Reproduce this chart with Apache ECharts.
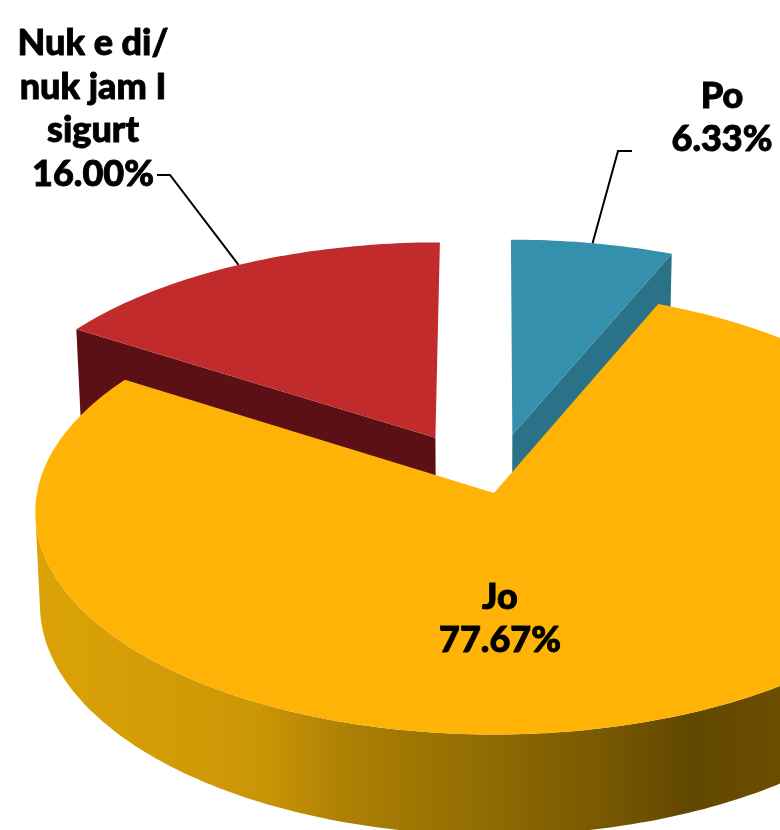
<!DOCTYPE html>
<html>
<head>
<meta charset="utf-8">
<style>html,body{margin:0;padding:0;background:#fff}#c{width:780px;height:830px}</style>
<script src="https://cdn.jsdelivr.net/npm/echarts@6/dist/echarts.min.js"></script>
</head>
<body>
<div id="c"></div>
<script>
const categories = ['Po', 'Jo', 'Nuk e di/\nnuk jam I\nsigurt'];
const values = [6.33, 77.67, 16.00];

const topColors = ['#3590AD', '#FFB306', '#C12B2B'];
const edgeColors = ['#2A7287', null, '#5A1014'];
const wallStops = [
  { offset: 0, color: '#DCA308' }, { offset: 0.30, color: '#CB9606' },
  { offset: 0.42, color: '#AC8004' }, { offset: 0.62, color: '#8E6A03' },
  { offset: 0.75, color: '#7A5A02' }, { offset: 0.88, color: '#614700' },
  { offset: 1, color: '#6B4E00' }
];
const explode = [[0.041, 0.27], [0, 0], [-0.131, 0.255]];
const drawOrder = [1, 3, 2];
const labelPos = [[722, 118], [500, 619], [93, 109]];
const elbows = [[[632, 151], [618, 151]], null, [[157, 175], [170, 175]]];

const G = { ax: 494, ay: 493, A: 457, B: 221, k: 0.085, h: 92, shrink: 0.01 };

function proj(u, v, bottom) {
  const w = 1 + G.k * v;
  const s = bottom ? 1 - G.shrink : 1;
  return [G.ax + G.A * u * s / w, G.ay - G.B * v / w + (bottom ? G.h / w : 0)];
}
const total = values.reduce((a, b) => a + b, 0);
const starts = [];
values.reduce((acc, v, i) => { starts[i] = acc; return acc + v; }, 0);

function rim(a, off) {
  return [Math.sin(a) + off[0], Math.cos(a) + off[1]];
}

function renderItem(params, api) {
  const i = params.dataIndex;
  const val = api.value(0);
  const a0 = starts[i] / total * 2 * Math.PI;
  const a1 = a0 + val / total * 2 * Math.PI;
  const off = explode[i];
  const n = Math.max(8, Math.ceil((a1 - a0) / (Math.PI / 180)));
  const rimAngles = [];
  for (let j = 0; j <= n; j++) rimAngles.push(a0 + (a1 - a0) * j / n);
  const apex = off;
  const z = drawOrder[i];
  const children = [];

  const topArc = rimAngles.map(a => { const p = rim(a, off); return proj(p[0], p[1], false); });

  if (edgeColors[i]) {
    // cut face that looks toward the viewer
    const a = i === 0 ? a1 : a0;
    const p = rim(a, off);
    children.push({
      type: 'polygon', z2: z,
      shape: { points: [proj(p[0], p[1], false), proj(apex[0], apex[1], false), proj(apex[0], apex[1], true), proj(p[0], p[1], true)] },
      style: { fill: edgeColors[i] }
    });
  } else {
    // outer wall: only the part of the rim that faces the viewer
    const front = rimAngles.filter(a => Math.cos(a) <= -0.1);
    const wallTop = front.map(a => { const p = rim(a, off); return proj(p[0], p[1], false); });
    const wallBot = front.map(a => { const p = rim(a, off); return proj(p[0], p[1], true); });
    children.push({
      type: 'polygon', z2: z,
      shape: { points: wallTop.concat(wallBot.reverse()) },
      style: { fill: { type: 'linear', x: 36, y: 0, x2: 780, y2: 0, global: true, colorStops: wallStops } }
    });
  }
  children.push({
    type: 'polygon', z2: z + 0.5,
    shape: { points: [proj(apex[0], apex[1], false)].concat(topArc) },
    style: { fill: topColors[i] }
  });

  if (elbows[i]) {
    const mid = rim((a0 + a1) / 2, off);
    children.push({
      type: 'polyline', z2: 10,
      shape: { points: elbows[i].concat([proj(mid[0], mid[1], false)]) },
      style: { stroke: '#000', lineWidth: 2, fill: null }
    });
  }
  children.push({
    type: 'text', z2: 11,
    x: labelPos[i][0], y: labelPos[i][1],
    style: {
      text: categories[i] + '\n' + val.toFixed(2) + '%',
      align: 'center', verticalAlign: 'middle',
      fontFamily: 'Lato', fontWeight: 900, fontSize: 36, lineHeight: 43.5,
      fill: '#000', stroke: '#000', lineWidth: 0.9
    }
  });
  return { type: 'group', children };
}

const chart = echarts.init(document.getElementById('c'), null, { renderer: 'canvas' });
chart.setOption({
  animation: false,
  backgroundColor: '#fff',
  series: [{
    type: 'custom',
    coordinateSystem: 'none',
    clip: false,
    silent: true,
    renderItem,
    data: values.map((v, i) => ({ name: categories[i], value: [v] }))
  }]
});
</script>
</body>
</html>
